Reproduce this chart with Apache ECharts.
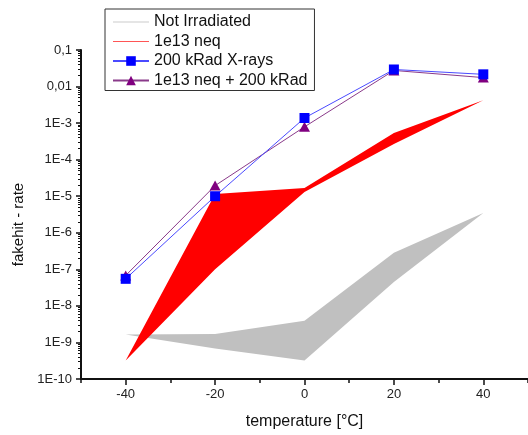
<!DOCTYPE html>
<html>
<head>
<meta charset="utf-8">
<script src="https://cdn.jsdelivr.net/npm/echarts@6/dist/echarts.min.js"></script>
<style>
  html, body { margin: 0; padding: 0; background: #fff; }
  #chart { width: 528px; height: 435px; }
</style>
</head>
<body>
<div id="chart"></div>
<script>
// Measurement temperatures (°C)
const temperatures = [-40, -20, 0, 20, 40];

// Fake-hit rate bands: upper and lower envelope per temperature
const notIrradiatedHigh = [1.64e-9, 1.7e-9, 3.95e-9, 2.84e-7, 3.5e-6];
const notIrradiatedLow  = [1.64e-9, 6.8e-10, 3.2e-10, 4.5e-8, 3.5e-6];
const neutronHigh = [3.2e-10, 1.15e-5, 1.68e-5, 5.4e-4, 4.2e-3];
const neutronLow  = [3.2e-10, 1.0e-7, 1.3e-5, 2.7e-4, 4.2e-3];

// Single measurements with markers
const xrayRate     = [5.5e-8, 1.0e-5, 1.38e-3, 0.0293, 0.0216];
const combinedRate = [6.8e-8, 1.95e-5, 7.9e-4, 0.0276, 0.0176];

// Axis ticks and labels
const xTickValues = [-40, -20, 0, 20, 40];
const xMinorTickValues = [-50, -30, -10, 10, 30, 50];
const yTickLabels = ['1E-10', '1E-9', '1E-8', '1E-7', '1E-6', '1E-5', '1E-4', '1E-3', '0,01', '0,1'];

// Minor ticks between decades (2..9 × 10^n)
const yMinorTickValues = [];
for (let e = -10; e < -1; e++) {
  for (let k = 2; k <= 9; k++) yMinorTickValues.push(k * Math.pow(10, e));
}

// A band is drawn as a closed loop: upper edge left→right, lower edge right→left
function bandLoop(high, low) {
  const pts = temperatures.map((t, i) => [t, high[i]]);
  for (let i = temperatures.length - 1; i >= 0; i--) pts.push([temperatures[i], low[i]]);
  return pts;
}
function pairs(values) {
  return temperatures.map((t, i) => [t, values[i]]);
}

const chart = echarts.init(document.getElementById('chart'), null, { renderer: 'canvas' });

const fontFamily = 'Liberation Sans, Arial, sans-serif';
const axisColor = '#111';

chart.setOption({
  animation: false,
  backgroundColor: '#fff',
  grid: { left: 81, right: -9, top: 50, bottom: 47, containLabel: false },
  legend: {
    orient: 'vertical',
    left: 105,
    top: 9,
    padding: [5, 7, 2, 7],
    itemGap: 3.5,
    itemWidth: 36,
    itemHeight: 12,
    borderColor: '#333',
    borderWidth: 1,
    backgroundColor: '#fff',
    textStyle: { fontFamily, fontSize: 16, color: '#111' },
    data: [
      { name: 'Not Irradiated', itemStyle: { opacity: 0 }, lineStyle: { color: '#cccccc', width: 1.2 } },
      { name: '1e13 neq', itemStyle: { opacity: 0 }, lineStyle: { color: '#ff5555', width: 1.2 } },
      { name: '200 kRad X-rays' },
      { name: '1e13 neq + 200 kRad' }
    ]
  },
  xAxis: [{
    type: 'value',
    min: -50,
    max: 50,
    interval: 10,
    name: 'temperature [°C]',
    nameLocation: 'middle',
    nameGap: 35,
    nameTextStyle: { fontFamily, fontSize: 16, color: '#111' },
    axisLine: { onZero: false, lineStyle: { color: axisColor, width: 2 } },
    axisTick: { show: true, inside: false, length: 6, customValues: xTickValues, lineStyle: { color: axisColor, width: 1.5 } },
    axisLabel: { customValues: xTickValues, margin: 9, fontFamily, fontSize: 13, color: '#222' },
    splitLine: { show: false }
  }, {
    // short ticks halfway between the labelled ones
    type: 'value',
    min: -50,
    max: 50,
    interval: 10,
    position: 'bottom',
    axisLine: { show: false, onZero: false },
    axisTick: { show: true, inside: false, length: 4, customValues: xMinorTickValues, lineStyle: { color: axisColor, width: 1.5 } },
    axisLabel: { show: false },
    splitLine: { show: false }
  }],
  yAxis: [{
    type: 'log',
    logBase: 10,
    min: 1e-10,
    max: 0.1,
    splitNumber: 9,
    position: 'left',
    name: 'fakehit - rate',
    nameLocation: 'middle',
    nameGap: 52,
    nameRotate: 90,
    nameTextStyle: { fontFamily, fontSize: 15, color: '#111', padding: [0, 20, 0, 0] },
    axisLine: { onZero: false, lineStyle: { color: axisColor, width: 2 } },
    axisTick: { show: true, inside: false, length: 5, lineStyle: { color: axisColor, width: 1.5 } },
    axisLabel: {
      margin: 9,
      fontFamily,
      fontSize: 13,
      color: '#222',
      formatter: v => yTickLabels[Math.round(Math.log10(v)) + 10]
    },
    splitLine: { show: false }
  }, {
    // logarithmic minor ticks
    type: 'log',
    logBase: 10,
    min: 1e-10,
    max: 0.1,
    position: 'left',
    offset: 0,
    axisLine: { show: false, onZero: false },
    axisTick: { show: true, inside: false, length: 3, customValues: yMinorTickValues, lineStyle: { color: '#111', width: 1 } },
    axisLabel: { show: false },
    splitLine: { show: false }
  }],
  series: [
    {
      name: 'Not Irradiated',
      type: 'line',
      data: bandLoop(notIrradiatedHigh, notIrradiatedLow),
      symbol: 'none',
      lineStyle: { width: 0, color: '#c0c0c0' },
      itemStyle: { color: '#c0c0c0' },
      areaStyle: { color: '#c0c0c0', opacity: 1 },
      z: 1
    },
    {
      name: '1e13 neq',
      type: 'line',
      data: bandLoop(neutronHigh, neutronLow),
      symbol: 'none',
      lineStyle: { width: 0, color: '#ff0000' },
      itemStyle: { color: '#ff0000' },
      areaStyle: { color: '#ff0000', opacity: 1 },
      z: 2
    },
    {
      name: '1e13 neq + 200 kRad',
      type: 'line',
      data: pairs(combinedRate),
      symbol: 'triangle',
      symbolSize: [11, 10],
      lineStyle: { width: 1, color: '#8a3a8a' },
      itemStyle: { color: '#800080' },
      z: 3
    },
    {
      name: '200 kRad X-rays',
      type: 'line',
      data: pairs(xrayRate),
      symbol: 'rect',
      symbolSize: 10,
      lineStyle: { width: 1, color: '#4a4aff' },
      itemStyle: { color: '#0000ff' },
      z: 4
    }
  ]
});
</script>
</body>
</html>
